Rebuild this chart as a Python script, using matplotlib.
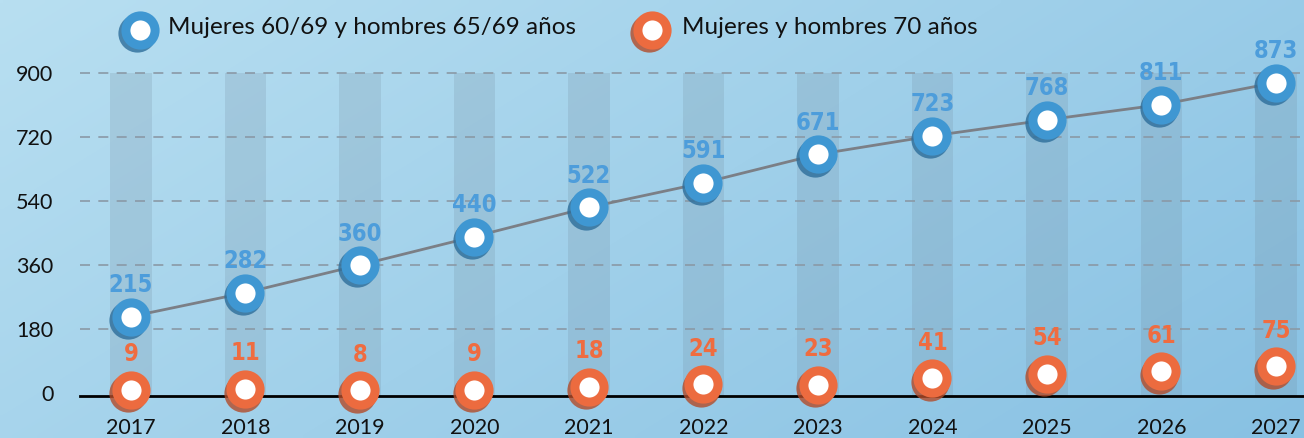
import matplotlib
matplotlib.use("Agg")
import matplotlib.pyplot as plt
import matplotlib.transforms as mtransforms
import numpy as np

# datos
years = [2017, 2018, 2019, 2020, 2021, 2022, 2023, 2024, 2025, 2026, 2027]
mujeres_60_69 = [215, 282, 360, 440, 522, 591, 671, 723, 768, 811, 873]
mayores_70 = [9, 11, 8, 9, 18, 24, 23, 41, 54, 61, 75]
yticks = [0, 180, 360, 540, 720, 900]
legend_labels = ["Mujeres 60/69 y hombres 65/69 años", "Mujeres y hombres 70 años"]

BLUE = "#3f97d2"
BLUE_DARK = "#2c6d9a"
ORANGE = "#ec6b3f"
ORANGE_DARK = "#b24b29"
LBL_BLUE = "#4d9ddb"
LBL_ORANGE = "#ef6c40"

W, H = 1304, 438
fig = plt.figure(figsize=(W / 100, H / 100), dpi=100)

# fondo degradado
bg = fig.add_axes([0, 0, 1, 1], zorder=0)
gx, gy = np.meshgrid(np.linspace(0, 1, 200), np.linspace(0, 1, 80))
t = np.clip(0.65 * gx + 0.35 * gy, 0, 1)[..., None]
c0 = np.array([0xb8, 0xdf, 0xf1]) / 255
c1 = np.array([0x88, 0xc1, 0xe3]) / 255
bg.imshow(c0 * (1 - t) + c1 * t, aspect="auto", extent=[0, 1, 0, 1],
          interpolation="bilinear")
bg.axis("off")

# ejes principales
left, bottom = 80 / W, (H - 396) / H
ax = fig.add_axes([left, bottom, 1 - left, 1 - bottom], zorder=1)
ax.patch.set_alpha(0)
ax.set_xlim(2016.555, 2027.245)
ax.set_ylim(-8.4, 1105)

# columnas sombreadas
ax.bar(years, [900 + 8.4] * len(years), bottom=-8.4, width=0.36,
       color="#6f8799", alpha=0.2, zorder=1)

for v in yticks[1:]:
    ax.axhline(v, color="#8a99a6", lw=1.2, ls=(0, (6, 5)), zorder=2)

for s in ["top", "right", "left"]:
    ax.spines[s].set_visible(False)
ax.spines["bottom"].set_color("black")
ax.spines["bottom"].set_linewidth(2)
ax.spines["bottom"].set_zorder(3)

ax.set_yticks(yticks)
ax.set_yticklabels([str(v) for v in yticks])
ax.set_xticks(years)
ax.set_xticklabels([str(y) for y in years])
ax.tick_params(axis="y", length=0, pad=19, labelsize=15.5, labelcolor="#111111")
ax.tick_params(axis="x", length=0, pad=16, labelsize=15.5, labelcolor="#111111")
for lab in ax.get_xticklabels() + ax.get_yticklabels():
    lab.set_family(["Lato", "DejaVu Sans"])

ax.plot(years, mujeres_60_69, color="#7b7f86", lw=2, zorder=3)


def ring_markers(axis, xs, ys, color, dark, transform=None, clip=True):
    tr = transform if transform is not None else axis.transData
    shadow = mtransforms.offset_copy(tr, fig=fig, x=-2, y=-2.5, units="points")
    axis.plot(xs, ys, "o", ms=21, mfc="none", mec=dark, mew=6.5, alpha=0.8,
              transform=shadow, zorder=4, clip_on=clip)
    axis.plot(xs, ys, "o", ms=21, mfc="white", mec=color, mew=6.5,
              transform=tr, zorder=5, clip_on=clip)


ring_markers(ax, years, mujeres_60_69, BLUE, BLUE_DARK)
ring_markers(ax, years, mayores_70, ORANGE, ORANGE_DARK, clip=False)

# cifras sobre cada punto
num_font = dict(family=["DejaVu Sans", "Roboto"], fontstretch="condensed",
                fontweight="bold", fontsize=17)
for x, v in zip(years, mujeres_60_69):
    ax.annotate(str(v), (x, v), xytext=(0, 14), textcoords="offset points",
                ha="center", va="bottom", color=LBL_BLUE, zorder=6, **num_font)
for x, v in zip(years, mayores_70):
    ax.annotate(str(v), (x, v), xytext=(0, 17), textcoords="offset points",
                ha="center", va="bottom", color=LBL_ORANGE, zorder=6, **num_font)

# leyenda
leg_ax = fig.add_axes([0, 0, 1, 1], zorder=2)
leg_ax.set_xlim(0, W)
leg_ax.set_ylim(H, 0)
leg_ax.axis("off")
for (mx, tx), lab, col, dark in zip([(140, 168), (652, 682)], legend_labels,
                                    [BLUE, ORANGE], [BLUE_DARK, ORANGE_DARK]):
    ring_markers(leg_ax, [mx], [30], col, dark)
    leg_ax.text(tx, 28, lab, ha="left", va="center", fontsize=17.5,
                color="#111111", family=["Lato", "DejaVu Sans"])

fig.savefig("out.png", dpi=100)
